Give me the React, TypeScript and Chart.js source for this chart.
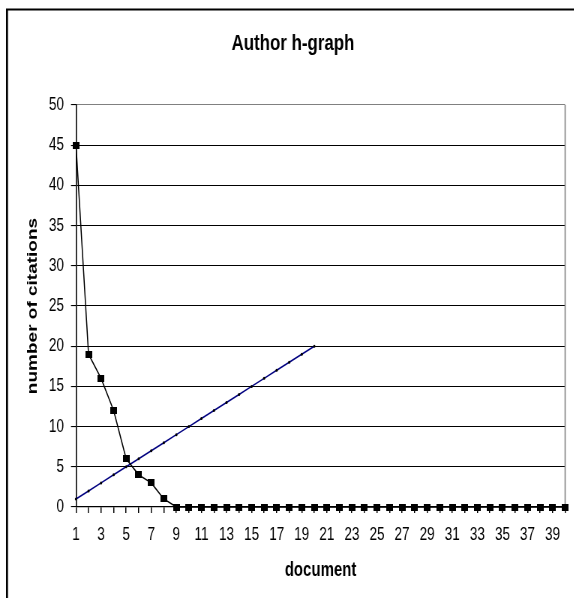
import React, { useEffect, useRef } from "react";
import { Chart, registerables } from "chart.js";

Chart.register(...registerables);

const titleText = "Author h-graph";
const xTitleText = "document";
const yTitleText = "number of citations";

const documents = [
  1, 2, 3, 4, 5, 6, 7, 8, 9, 10, 11, 12, 13, 14, 15, 16, 17, 18, 19, 20,
  21, 22, 23, 24, 25, 26, 27, 28, 29, 30, 31, 32, 33, 34, 35, 36, 37, 38, 39, 40,
];
const citations = [
  45, 19, 16, 12, 6, 4, 3, 1, 0, 0, 0, 0, 0, 0, 0, 0, 0, 0, 0, 0,
  0, 0, 0, 0, 0, 0, 0, 0, 0, 0, 0, 0, 0, 0, 0, 0, 0, 0, 0, 0,
];
const diagonalX = [1, 2, 3, 4, 5, 6, 7, 8, 9, 10, 11, 12, 13, 14, 15, 16, 17, 18, 19, 20];
const diagonalY = [1, 2, 3, 4, 5, 6, 7, 8, 9, 10, 11, 12, 13, 14, 15, 16, 17, 18, 19, 20];
const yTicks = [0, 5, 10, 15, 20, 25, 30, 35, 40, 45, 50];

// the reference picture is squeezed horizontally; draw wide, then squeeze
const S = 0.75;
const W = 574;
const H = 598;
const WI = Math.round(W / S);
const X = (v: number) => v / S;
const SANS = "'Liberation Sans', Arial, sans-serif";

function makeSquare(): HTMLCanvasElement {
  const c = document.createElement("canvas");
  c.width = Math.round(X(7));
  c.height = 7;
  const g = c.getContext("2d")!;
  g.fillStyle = "#000";
  g.fillRect(0, 0, c.width, c.height);
  return c;
}

const framePlugin = {
  id: "frame",
  beforeDraw(chart: any) {
    const ctx = chart.ctx;
    ctx.save();
    ctx.fillStyle = "#fff";
    ctx.fillRect(0, 0, chart.width, chart.height);
    ctx.strokeStyle = "#000";
    ctx.beginPath();
    ctx.lineWidth = X(2);
    ctx.moveTo(X(7), H + 10);
    ctx.lineTo(X(7), 9.5);
    ctx.stroke();
    ctx.beginPath();
    ctx.lineWidth = 2;
    ctx.moveTo(X(6), 9.5);
    ctx.lineTo(WI + 10, 9.5);
    ctx.stroke();
    ctx.restore();
  },
  beforeDatasetsDraw(chart: any) {
    const { ctx, chartArea } = chart;
    ctx.save();
    ctx.strokeStyle = "#808080";
    ctx.lineWidth = X(1.2);
    ctx.beginPath();
    ctx.moveTo(chartArea.right, chartArea.top);
    ctx.lineTo(chartArea.right, chartArea.bottom);
    ctx.stroke();
    ctx.restore();
  },
};

export default function App() {
  const ref = useRef<HTMLCanvasElement>(null);

  useEffect(() => {
    document.body.style.margin = "0";
    document.body.style.overflow = "hidden";
    const square = makeSquare();
    const chart = new Chart(ref.current!, {
      type: "line",
      data: {
        datasets: [
          {
            label: "citations",
            data: documents.map((d, i) => ({ x: d, y: citations[i] })),
            borderColor: "#000",
            backgroundColor: "#000",
            borderWidth: 1.5,
            pointStyle: square,
            pointRadius: 4,
            clip: false,
            order: 0,
          },
          {
            label: "h",
            data: diagonalX.map((d, i) => ({ x: d, y: diagonalY[i] })),
            borderColor: "#000080",
            backgroundColor: "#000",
            borderWidth: 1.6,
            pointStyle: "circle",
            pointRadius: 1.5,
            pointBorderWidth: 0,
            pointBackgroundColor: "#000",
            clip: false,
            order: 1,
          },
        ],
      } as any,
      options: {
        responsive: false,
        animation: false,
        devicePixelRatio: 1,
        events: [],
        layout: { padding: { left: X(20), right: WI - X(566), top: 0, bottom: 0 } },
        plugins: {
          legend: { display: false },
          tooltip: { enabled: false },
          title: {
            display: true,
            text: titleText,
            color: "#000",
            font: { family: SANS, size: 22.5, weight: "bold", lineHeight: 1.2 },
            padding: { top: 30.5, bottom: 47.5 },
          },
        },
        scales: {
          x: {
            type: "linear",
            min: 1,
            max: 40,
            afterBuildTicks: (scale: any) => {
              scale.ticks = documents.map((v) => ({ value: v }));
            },
            afterFit: (scale: any) => {
              scale.height = H - 507;
            },
            ticks: {
              autoSkip: false,
              maxRotation: 0,
              minRotation: 0,
              color: "#000",
              padding: 11.5,
              font: { family: SANS, size: 18 },
              callback: (v: any) => (Number(v) % 2 === 1 ? String(v) : ""),
            },
            grid: {
              drawOnChartArea: false,
              drawTicks: true,
              tickLength: 6,
              tickWidth: X(1.1),
              lineWidth: X(1.1),
              color: "#000",
            },
            border: { display: true, color: "#000", width: 1.2 },
            title: {
              display: true,
              text: xTitleText,
              color: "#000",
              font: { family: SANS, size: 20, weight: "bold", lineHeight: 1.2 },
              padding: { top: 0, bottom: 16 },
            },
          },
          y: {
            type: "linear",
            min: 0,
            max: 50,
            afterBuildTicks: (scale: any) => {
              scale.ticks = yTicks.map((v) => ({ value: v }));
            },
            afterFit: (scale: any) => {
              scale.width = X(76) - X(20);
            },
            ticks: {
              color: "#000",
              padding: X(7),
              font: { family: SANS, size: 18 },
            },
            grid: {
              color: (c: any) => (c.tick && c.tick.value === 50 ? "#808080" : "#000"),
              tickColor: "#000",
              tickLength: X(5),
              lineWidth: 1.1,
            },
            border: { display: true, color: "#000", width: X(1.2) },
            title: {
              display: true,
              text: yTitleText,
              color: "#000",
              font: { family: SANS, size: 19, weight: "bold", lineHeight: 1.2 },
              padding: { top: X(33) - X(20) - 11.4, bottom: 0 },
            },
          },
        },
      } as any,
      plugins: [framePlugin],
    });
    return () => chart.destroy();
  }, []);

  return (
    <div style={{ width: W, height: H, overflow: "hidden", background: "#fff", position: "relative" }}>
      <canvas
        ref={ref}
        width={WI}
        height={H}
        style={{
          display: "block",
          width: WI,
          height: H,
          transform: `scaleX(${S})`,
          transformOrigin: "0 0",
        }}
      />
    </div>
  );
}
